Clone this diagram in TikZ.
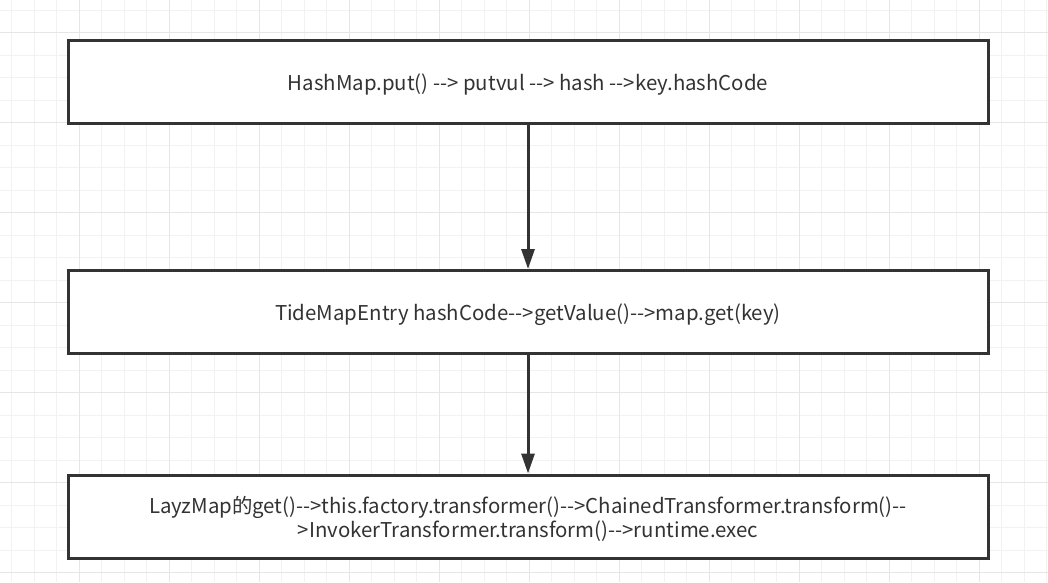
\documentclass[tikz,border=0pt]{standalone}
\usepackage{fontspec}
\usetikzlibrary{arrows.meta}
\newfontfamily\cjk{Noto Sans CJK SC}
\definecolor{gridminor}{HTML}{F2F2F2}
\definecolor{gridmajor}{HTML}{E6E6E6}
\definecolor{boxline}{HTML}{333333}
\begin{document}
\begin{tikzpicture}[x=1pt,y=-1pt]
	\tikzstyle{every node} = [font=\cjk\fontsize{20.4}{24}\selectfont, text=boxline];
	\tikzstyle{stepbox} = [draw=boxline, line width=3pt, fill=white, minimum width=920pt, minimum height=83pt, inner sep=0pt, text depth=0pt, align=center];
	\tikzstyle{flow} = [draw=boxline, line width=3pt, -{Triangle[width=13pt,length=20pt]}];
	\useasboundingbox (0,0) rectangle (1048,582);
	\fill[white] (0,0) rectangle (1048,582);
	% grid
	\foreach \x in {0,...,46} {
		\draw[gridminor, line width=1pt] (11.5+22.5*\x,0) -- (11.5+22.5*\x,582);
	}
	\foreach \y in {0,...,25} {
		\draw[gridminor, line width=1pt] (0,10+22.5*\y) -- (1048,10+22.5*\y);
	}
	\foreach \x in {0,...,11} {
		\draw[gridmajor, line width=1pt] (79+90*\x,0) -- (79+90*\x,582);
	}
	\foreach \y in {0,...,6} {
		\draw[gridmajor, line width=1pt] (0,32.5+90*\y) -- (1048,32.5+90*\y);
	}
	% boxes
	\node[stepbox] (put) at (528,82) {HashMap.put() --> putvul --> hash -->key.hashCode};
	\node[stepbox] (entry) at (528,312) {TideMapEntry hashCode-->getValue()-->map.get(key)};
	\node[stepbox] (lazy) at (528,516.5) {LayzMap的get()-->this.factory.transformer()-->ChainedTransformer.transform()--\\>InvokerTransformer.transform()-->runtime.exec};
	\draw[flow] (put) -- (entry);
	\draw[flow] (entry) -- (lazy);
\end{tikzpicture}
\end{document}
